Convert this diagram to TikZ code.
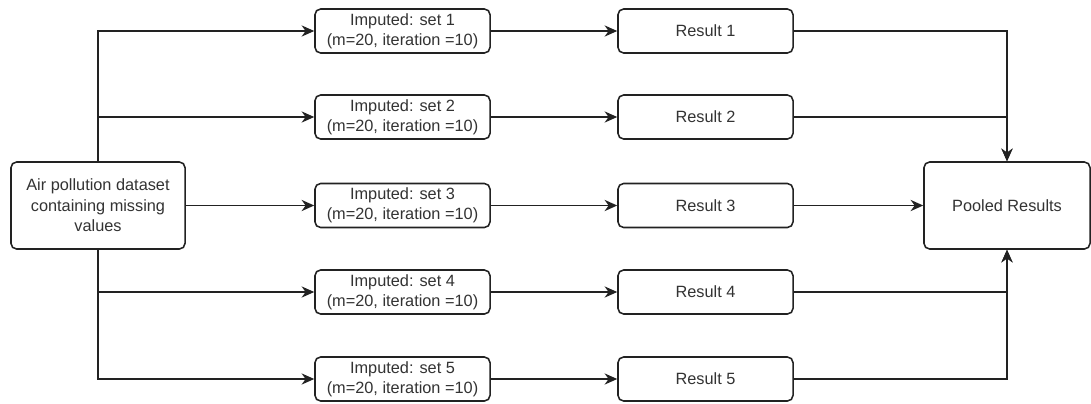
\documentclass[tikz,border=0pt]{standalone}
\usepackage{fontspec}
\setmainfont{Liberation Sans}
\usetikzlibrary{arrows.meta}
\definecolor{linegray}{HTML}{222222}
\definecolor{textgray}{HTML}{333333}
\tikzset{
  box/.style={draw=linegray, line width=1.1pt, rounded corners=4pt, fill=white,
    text=textgray, align=center, font=\fontsize{11.6}{14.5}\selectfont,
    inner sep=1pt},
  setbox/.style={box, minimum width=4.375cm, minimum height=1.1cm},
  bigbox/.style={box, minimum height=2.175cm},
  flow/.style={draw=linegray, line width=1.1pt, -{Stealth[length=9pt,width=8pt]}}
}
\begin{document}
\begin{tikzpicture}[x=0.025cm, y=-0.025cm]
  \useasboundingbox (0,0) rectangle (1091,403);

  \node[bigbox, minimum width=4.35cm] (air) at (98,205.5)
    {Air pollution dataset\\containing missing\\values};
  \node[bigbox, minimum width=4.15cm] (pool) at (1007,205.5) {Pooled Results};

  \node[setbox] (imp1) at (402.5,31)    {Imputed: set 1\\(m=20, iteration =10)};
  \node[setbox] (imp2) at (402.5,117)   {Imputed: set 2\\(m=20, iteration =10)};
  \node[setbox] (imp3) at (402.5,205.5) {Imputed: set 3\\(m=20, iteration =10)};
  \node[setbox] (imp4) at (402.5,292)   {Imputed: set 4\\(m=20, iteration =10)};
  \node[setbox] (imp5) at (402.5,379)   {Imputed: set 5\\(m=20, iteration =10)};

  \node[setbox] (res1) at (705.5,31)    {Result 1};
  \node[setbox] (res2) at (705.5,117)   {Result 2};
  \node[setbox] (res3) at (705.5,205.5) {Result 3};
  \node[setbox] (res4) at (705.5,292)   {Result 4};
  \node[setbox] (res5) at (705.5,379)   {Result 5};

  % dataset to imputed sets
  \draw[flow] (air.north) |- (imp1.west);
  \draw[flow] (air.north) |- (imp2.west);
  \draw[flow] (air.east) -- (imp3.west);
  \draw[flow] (air.south) |- (imp4.west);
  \draw[flow] (air.south) |- (imp5.west);

  % imputed sets to results
  \foreach \i in {1,...,5}
    \draw[flow] (imp\i.east) -- (res\i.west);

  % results to pooled results
  \draw[flow] (res1.east) -| (pool.north);
  \draw[flow] (res2.east) -| (pool.north);
  \draw[flow] (res3.east) -- (pool.west);
  \draw[flow] (res4.east) -| (pool.south);
  \draw[flow] (res5.east) -| (pool.south);
\end{tikzpicture}
\end{document}
